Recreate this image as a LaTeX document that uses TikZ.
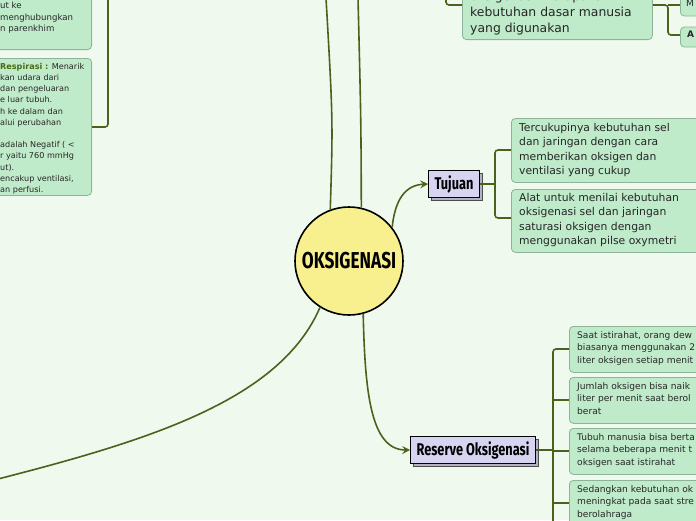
\documentclass[tikz,border=0pt]{standalone}
\usepackage{fontspec}
\setmainfont{DejaVu Sans}
\newfontfamily\headfont[FakeStretch=0.75]{Fira Sans}
\usetikzlibrary{arrows.meta,shadows}
\definecolor{bg}{HTML}{F0F9EE}
\definecolor{boxf}{HTML}{C0EBCB}
\definecolor{boxd}{HTML}{8DB398}
\definecolor{ln}{HTML}{4A621C}
\definecolor{yel}{HTML}{F8F08E}
\definecolor{lav}{HTML}{D6D4F0}
\definecolor{grn}{HTML}{4A6A10}
\tikzset{
  box/.style={draw=boxd, fill=boxf, rounded corners=4pt, line width=0.8pt, inner sep=0pt},
  txt/.style={anchor=north west, inner sep=0pt, align=left, font=\fontsize{10.8}{14.4}\selectfont, text=black!85},
  stxt/.style={anchor=north west, inner sep=0pt, align=left, font=\fontsize{8.1}{11.2}\selectfont, text=black!85},
  con/.style={draw=ln, line width=1.6pt},
  arr/.style={con, -{Stealth[length=8pt,width=8pt,inset=3pt]}},
  topic/.style={draw=black, fill=lav, line width=0.8pt, inner xsep=6pt, inner ysep=5pt, font=\headfont\bfseries\fontsize{17}{18}\selectfont,
    copy shadow={shadow xshift=3pt, shadow yshift=-3pt, fill=lav!60!gray, draw=black!70}},
}
\begin{document}
\begin{tikzpicture}[x=1pt,y=-1pt]
\useasboundingbox (0,0) rectangle (696,520);
\fill[bg] (0,0) rectangle (696,520);
\clip (0,0) rectangle (696,520);
% central
\node[circle, draw=black, line width=1.6pt, fill=yel, minimum size=108pt, font=\headfont\bfseries\fontsize{23}{24}\selectfont] (c) at (349,261) {OKSIGENASI};
% top lines
\coordinate (t1) at (326,-2); \coordinate (t2) at (358,-2);
\draw[con] (c.110) .. controls (333,120) .. (t1);
\draw[con] (c.77) .. controls (361,120) .. (t2);
% top box
\node[box, minimum width=190pt, minimum height=50pt, anchor=south west] (top) at (462,40) {};
\node[txt, font=\fontsize{12.4}{16}\selectfont] at (470,-9) {oksigenasi merupakan\\kebutuhan dasar manusia\\yang digunakan};
\coordinate (tl) at (446,-2);
\draw[con, rounded corners=3pt] (tl) -- (446,5) -- (top.west |- 0,5);
\draw[con, rounded corners=3pt] (top.east |- 0,5) -- (668,5) -- (668,35) -- (681,35);
\draw[con] (668,5) -- (681,5);
\node[box, minimum width=30pt, minimum height=20pt, anchor=west] (m) at (680,6) {};
\node[box, minimum width=30pt, minimum height=20pt, anchor=west] (a) at (680,37) {};
\node[txt, font=\fontsize{9}{10}\selectfont] at (686,0) {M};
\node[txt, font=\bfseries\fontsize{9}{10}\selectfont] at (687,31) {A};
% left boxes
\node[box, minimum width=120pt, minimum height=80pt, anchor=south east] (l1) at (92,50) {};
\node[stxt, font=\fontsize{8.6}{11.5}\selectfont] at (0,2) {ut ke\\menghubungkan\\n parenkhim};
\node[box, minimum width=120pt, minimum height=137pt, anchor=north east] (l2) at (92,58) {};
\node[stxt] at (0,63) {\textcolor{grn}{\textbf{Respirasi :}} Menarik\\kan udara dari\\ dan pengeluaran\\e luar tubuh.\\h ke dalam dan\\alui perubahan\\[11.2pt]adalah Negatif ( <\\r yaitu 760 mmHg\\ut).\\encakup ventilasi,\\an perfusi.};
\coordinate (lt) at (108,-2);
\draw[con, rounded corners=3pt] (lt) -- (108,127) -- (l2.east |- 0,127);
% Tujuan
\node[topic] (tj) at (454,184) {Tujuan};
\draw[arr] (c.38) .. controls (395,200) and (405,185) .. (tj.west);
\node[box, minimum width=190pt, minimum height=64pt, anchor=north west] (b1) at (511,118) {};
\node[txt] at (519,123) {Tercukupinya kebutuhan sel\\dan jaringan dengan cara\\memberikan oksigen dan\\ventilasi yang cukup};
\node[box, minimum width=190pt, minimum height=63pt, anchor=north west] (b2) at (511,189) {};
\node[txt] at (519,193) {Alat untuk menilai kebutuhan\\oksigenasi sel dan jaringan\\saturasi oksigen dengan\\menggunakan pilse oxymetri};
\draw[con] (tj.east) -- (495,184);
\draw[con, rounded corners=3pt] (b1.west |- 0,150) -- (495,150) -- (495,218) -- (b2.west |- 0,218);
% Reserve
\node[topic] (ro) at (473,450) {Reserve Oksigenasi};
\draw[arr] (c.285) .. controls (365,390) and (370,450) .. (ro.west);
\foreach \n/\y/\h in {r1/326/46, r2/377/46, r3/428/46, r4/480/46}
  \node[box, minimum width=150pt, minimum height=\h pt, anchor=north west] (\n) at (569,\y) {};
\tikzset{rt/.style={stxt, font=\fontsize{9.1}{12.8}\selectfont}}
\node[rt] at (577,331) {Saat istirahat, orang dew\\biasanya menggunakan 2\\liter oksigen setiap menit};
\node[rt] at (577,382) {Jumlah oksigen bisa naik\\liter per menit saat berol\\berat};
\node[rt] at (577,433) {Tubuh manusia bisa berta\\selama beberapa menit t\\oksigen saat istirahat};
\node[rt] at (577,485) {Sedangkan kebutuhan ok\\meningkat pada saat stre\\berolahraga};
\draw[con] (ro.east) -- (553,450);
\draw[con, rounded corners=3pt] (r1.west |- 0,349) -- (553,349) -- (553,530);
\draw[con] (553,400) -- (r2.west |- 0,400);
\draw[con] (553,451) -- (r3.west |- 0,451);
\draw[con] (553,503) -- (r4.west |- 0,503);
% lower-left
\coordinate (bl) at (-2,479);
\draw[con] (c.238) .. controls (280,400) and (150,440) .. (bl);
\end{tikzpicture}
\end{document}
